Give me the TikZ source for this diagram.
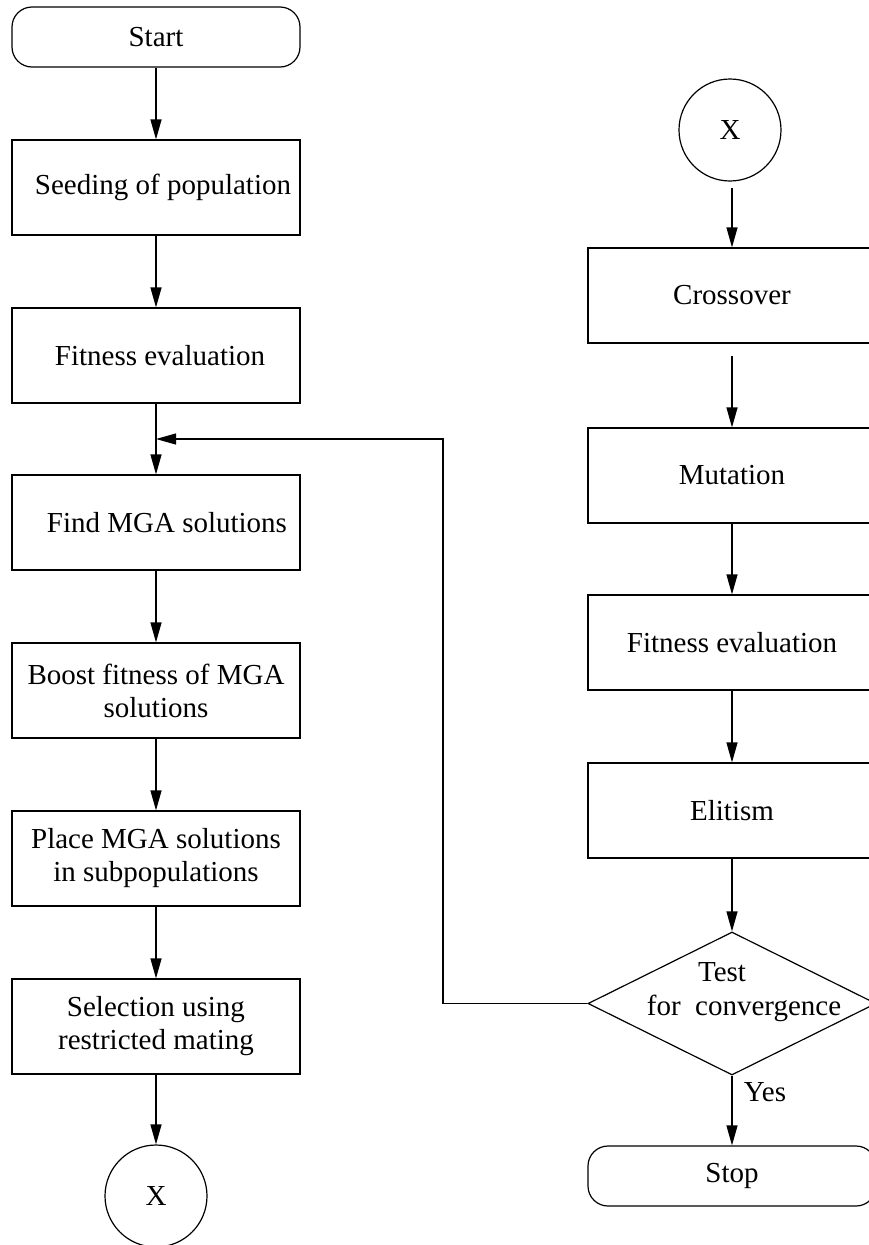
\documentclass[tikz,border=0pt]{standalone}
\usepackage{fontspec}
\setmainfont{Liberation Serif}
\usetikzlibrary{arrows.meta,shapes.geometric}
\begin{document}
\begin{tikzpicture}[x=1pt,y=-1pt,
  font=\fontsize{29}{33}\selectfont,
  line width=1.2pt,
  stepbox/.style={draw,rectangle,minimum width=288pt,minimum height=95pt,inner sep=0pt,align=center},
  termbox/.style={draw,rectangle,rounded corners=20pt,minimum width=288pt,minimum height=60pt,inner sep=0pt},
  connector/.style={draw,circle,minimum size=102pt,inner sep=0pt},
  flow/.style={-{Triangle[length=20pt,width=11pt]}}]
\useasboundingbox (0,0) rectangle (869,1245);
\clip (0,0) rectangle (869,1245);
% left column
\node[termbox] (start) at (156,37) {Start};
\node[stepbox] (seed) at (156,187.5) {\hspace{14pt}Seeding of population};
\node[stepbox] (fit1) at (156,355.5) {\hspace{8pt}Fitness evaluation};
\node[stepbox] (find) at (156,522.5) {\hspace{22pt}Find MGA solutions};
\node[stepbox] (boost) at (156,690.5) {Boost fitness of MGA\\solutions};
\node[stepbox] (place) at (156,858.5) {Place MGA solutions\\in subpopulations};
\node[stepbox] (sel) at (156,1026.5) {Selection using\\restricted mating};
\node[connector] (xa) at (156,1196) {X};
\coordinate (join) at (156,439);
% right column
\node[connector] (xb) at (730,130) {X};
\node[stepbox] (cross) at (732,295.5) {Crossover};
\node[stepbox] (mut) at (732,475.5) {Mutation};
\node[stepbox] (fit2) at (732,642.5) {Fitness evaluation};
\node[stepbox] (elit) at (732,810.5) {Elitism};
\node[draw,diamond,minimum width=288pt,minimum height=143pt,inner sep=0pt] (test) at (732,1003.5) {};
\node (testa) at (722,972) {Test};
\node (testb) at (744,1008) {for\ \ convergence};
\node[termbox] (stop) at (732,1176) {Stop};
\coordinate (bend) at (443,439);
% connectors
\draw[flow] (start) -- (seed);
\draw[flow] (seed) -- (fit1);
\draw[flow] (fit1) -- (find);
\draw[flow] (find) -- (boost);
\draw[flow] (boost) -- (place);
\draw[flow] (place) -- (sel);
\draw[flow] (sel) -- (xa);
\draw[flow,shorten <=6pt] (xb.south -| cross.north) -- (cross);
\draw[flow,shorten <=12pt] (cross) -- (mut);
\draw[flow] (mut) -- (fit2);
\draw[flow] (fit2) -- (elit);
\draw[flow] (elit) -- (test);
\draw[flow] (test) -- node[right,pos=0.24,xshift=8pt] {Yes} (stop);
\draw[flow] (test.west) -- (test.west -| bend) -- (bend) -- (join);
\end{tikzpicture}
\end{document}
